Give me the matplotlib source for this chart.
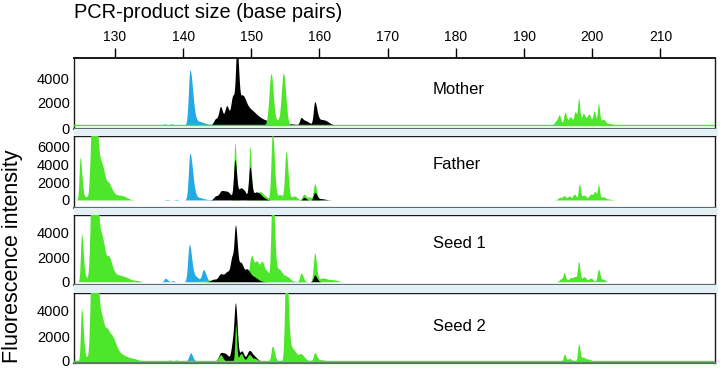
import numpy as np
import matplotlib.pyplot as plt
from matplotlib.patches import Rectangle

plt.rcParams['font.family'] = ['Liberation Sans', 'DejaVu Sans']

# peaks: (size bp, height, left width, right width)
panels = ['Mother', 'Father', 'Seed 1', 'Seed 2']

mother_green = [(152.9, 4100, 0.3, 0.32), (153.8, 300, 0.3, 0.3), (154.7, 4150, 0.3, 0.34),
                (194.8, 350, 0.3, 0.3), (195.2, 650, 0.2, 0.2), (196.0, 1000, 0.2, 0.25),
                (196.8, 650, 0.25, 0.25), (197.5, 1050, 0.2, 0.2), (198.0, 2050, 0.15, 0.18),
                (198.7, 900, 0.25, 0.25), (199.5, 850, 0.3, 0.3), (200.3, 1100, 0.2, 0.2),
                (200.9, 1650, 0.15, 0.18), (201.6, 450, 0.3, 0.3), (202.5, 120, 0.4, 0.4)]
mother_blue = [(137.3, 80, 0.2, 0.2), (138.3, 80, 0.2, 0.2), (141.0, 4350, 0.22, 0.4),
               (142.0, 300, 0.5, 1.0)]
mother_black = [(144.8, 500, 0.3, 0.4), (145.5, 1350, 0.25, 0.3), (146.4, 1500, 0.3, 0.3),
                (147.3, 2300, 0.3, 0.3), (147.9, 6000, 0.2, 0.28), (148.7, 2100, 0.3, 0.5),
                (149.8, 1100, 0.6, 0.8), (151.3, 400, 0.8, 1.0), (154.0, 200, 1.5, 1.5),
                (157.3, 550, 0.2, 0.3), (158.0, 300, 0.3, 0.5), (159.3, 1750, 0.2, 0.3),
                (160.0, 400, 0.4, 0.8), (161.0, 150, 0.5, 0.5)]

father_green = [(124.9, 4700, 0.15, 0.25), (125.7, 350, 0.4, 0.4), (126.5, 3000, 0.2, 0.2),
                (126.9, 12000, 0.3, 0.4), (127.6, 3300, 0.45, 0.6), (128.3, 1900, 0.4, 0.5),
                (129.2, 1350, 0.3, 0.5), (130.5, 500, 0.6, 0.8), (131.5, 150, 0.5, 0.5),
                (147.6, 6400, 0.15, 0.2), (149.8, 6000, 0.15, 0.2), (151.2, 900, 0.3, 0.4),
                (152.0, 400, 0.4, 0.4), (153.1, 7600, 0.2, 0.28), (154.2, 600, 0.4, 0.4),
                (155.1, 5400, 0.2, 0.28), (156.3, 450, 0.4, 0.4), (157.7, 650, 0.2, 0.3),
                (158.5, 300, 0.3, 0.3), (159.3, 1800, 0.2, 0.28),
                (195.3, 300, 0.3, 0.3), (195.9, 450, 0.2, 0.2), (196.6, 450, 0.25, 0.25),
                (197.4, 650, 0.25, 0.25), (198.1, 1750, 0.15, 0.18), (198.8, 550, 0.3, 0.3),
                (199.8, 650, 0.3, 0.3), (200.4, 850, 0.2, 0.2), (200.9, 1650, 0.15, 0.18),
                (201.6, 350, 0.3, 0.3), (202.4, 100, 0.4, 0.4)]
father_blue = [(137.7, 70, 0.2, 0.2), (139.0, 70, 0.2, 0.2), (141.0, 5200, 0.22, 0.4),
               (142.0, 300, 0.4, 0.9)]
father_black = [(144.8, 450, 0.3, 0.4), (145.6, 800, 0.3, 0.4), (146.5, 900, 0.5, 0.5),
                (147.6, 4400, 0.2, 0.25), (148.4, 1200, 0.3, 0.3), (149.0, 900, 0.3, 0.3),
                (149.8, 3600, 0.2, 0.25), (150.7, 850, 0.4, 0.5), (151.5, 300, 0.4, 0.5),
                (157.7, 300, 0.2, 0.3), (159.3, 850, 0.2, 0.3), (160.2, 150, 0.4, 0.6)]

seed1_green = [(125.1, 3800, 0.15, 0.25), (125.7, 300, 0.4, 0.4), (126.5, 3000, 0.2, 0.2),
               (126.9, 12000, 0.3, 0.4), (127.6, 3000, 0.45, 0.6), (128.3, 1800, 0.4, 0.5),
               (129.2, 1550, 0.3, 0.5), (130.5, 500, 0.6, 0.8), (131.8, 200, 0.6, 0.6),
               (133.0, 80, 0.5, 0.5), (144.5, 150, 1.5, 1.5), (147.7, 4500, 0.12, 0.15),
               (150.0, 2000, 0.3, 0.3), (150.8, 1600, 0.35, 0.35), (151.6, 1500, 0.3, 0.3),
               (152.3, 800, 0.3, 0.3), (153.1, 8000, 0.2, 0.28), (154.0, 1000, 0.4, 0.5),
               (155.2, 400, 0.5, 0.5), (157.3, 700, 0.2, 0.3), (159.3, 2300, 0.2, 0.25),
               (160.5, 300, 0.6, 0.6), (162.0, 150, 0.6, 0.6),
               (195.5, 250, 0.3, 0.3), (195.9, 650, 0.15, 0.2), (196.8, 300, 0.3, 0.3),
               (197.5, 400, 0.3, 0.3), (198.0, 1550, 0.15, 0.2), (198.8, 400, 0.3, 0.3),
               (199.8, 300, 0.3, 0.3), (200.9, 1000, 0.18, 0.22), (201.6, 200, 0.3, 0.3)]
seed1_blue = [(133.4, 80, 0.2, 0.2), (137.4, 280, 0.2, 0.3), (138.5, 80, 0.2, 0.2),
              (140.9, 3000, 0.22, 0.35), (141.8, 400, 0.4, 0.5), (143.0, 950, 0.25, 0.35),
              (150.0, 80, 4.0, 4.0)]
seed1_black = [(144.5, 200, 0.4, 0.4), (145.5, 600, 0.35, 0.4), (146.5, 800, 0.4, 0.4),
               (147.2, 1800, 0.25, 0.3), (147.7, 4100, 0.2, 0.28), (148.5, 1500, 0.3, 0.4),
               (149.4, 850, 0.3, 0.4), (150.3, 400, 0.5, 0.6), (159.3, 550, 0.2, 0.3)]

seed2_green = [(125.1, 4100, 0.15, 0.25), (125.7, 300, 0.4, 0.4), (126.5, 3000, 0.2, 0.2),
               (126.9, 12000, 0.3, 0.4), (127.5, 3200, 0.45, 0.6), (128.3, 1800, 0.4, 0.5),
               (129.0, 1500, 0.3, 0.3), (129.6, 1600, 0.3, 0.5), (130.5, 600, 0.6, 0.8),
               (132.0, 200, 0.7, 0.7), (133.0, 100, 0.5, 0.5), (138.0, 80, 0.2, 0.2),
               (139.0, 80, 0.2, 0.2), (145.5, 500, 0.3, 0.3), (147.7, 2900, 0.12, 0.15),
               (148.5, 600, 0.3, 0.3), (149.7, 500, 0.3, 0.3), (150.5, 200, 0.4, 0.4),
               (153.1, 1200, 0.2, 0.3), (155.1, 8000, 0.2, 0.3), (156.0, 1000, 0.5, 0.6),
               (157.3, 500, 0.3, 0.5), (159.3, 650, 0.2, 0.3), (160.3, 100, 0.5, 0.5),
               (195.9, 550, 0.15, 0.2), (196.7, 200, 0.3, 0.3), (198.0, 1350, 0.15, 0.2),
               (198.7, 300, 0.3, 0.3), (199.5, 150, 0.3, 0.3)]
seed2_blue = [(141.1, 650, 0.25, 0.3)]
seed2_black = [(145.5, 600, 0.3, 0.4), (146.3, 500, 0.4, 0.4), (147.3, 1500, 0.25, 0.25),
               (147.7, 4200, 0.2, 0.25), (148.6, 800, 0.3, 0.3), (149.7, 800, 0.35, 0.4),
               (150.5, 300, 0.4, 0.4)]

greens = [mother_green, father_green, seed1_green, seed2_green]
blues = [mother_blue, father_blue, seed1_blue, seed2_blue]
blacks = [mother_black, father_black, seed1_black, seed2_black]

x_ticks = [130, 140, 150, 160, 170, 180, 190, 200, 210]
y_ticks = [[0, 2000, 4000], [0, 2000, 4000, 6000], [0, 2000, 4000], [0, 2000, 4000]]
y_lims = [(-80, 5600), (-900, 7150), (-270, 5440), (-160, 5440)]
baselines = [250, 0, 0, 0]
green_front = [True, False, False, True]

GREEN = '#4ee62b'
BLUE = '#22aae6'

xs = np.linspace(124, 218, 5000)


def trace(peaks):
    y = np.zeros_like(xs)
    for c, h, sl, sr in peaks:
        s = np.where(xs < c, sl, sr)
        y += h * np.exp(-0.5 * ((xs - c) / s) ** 2)
    return y


fig = plt.figure(figsize=(7.2, 3.81), dpi=100)
W, H = 720, 381
left, right = 74, 715
boxes = [(58, 129), (136, 208), (215, 285), (293, 363)]

# light bands between panels
for (t1, b1), (t2, b2) in zip(boxes[:-1], boxes[1:]):
    fig.patches.append(Rectangle((left / W, 1 - t2 / H), (right - left + 3) / W, (t2 - b1) / H,
                                 transform=fig.transFigure, facecolor='#e3f0f5',
                                 edgecolor='none', zorder=0))

for i, name in enumerate(panels):
    top, bot = boxes[i]
    ax = fig.add_axes([left / W, 1 - bot / H, (right - left) / W, (bot - top) / H])
    base = baselines[i]
    g = trace(greens[i])
    b = trace(blues[i])
    k = trace(blacks[i])
    ax.fill_between(xs, base, base + b, color=BLUE, lw=0, zorder=2)
    zg, zk = (4, 3) if green_front[i] else (3, 4)
    ax.fill_between(xs, base, base + g, color=GREEN, lw=0, zorder=zg)
    ax.fill_between(xs, base, base + k, color='black', lw=0, zorder=zk)
    if i in (0, 3):
        ax.axhline(base, color=GREEN, lw=1.0, zorder=5)
    ax.set_xlim(124, 218)
    ax.set_ylim(*y_lims[i])
    ax.set_yticks(y_ticks[i])
    ax.set_yticklabels([str(v) for v in y_ticks[i]], fontsize=10.5)
    ax.tick_params(axis='y', length=0, pad=3)
    for sp in ax.spines.values():
        sp.set_color('#1a1a1a')
        sp.set_linewidth(1.0)
    ax.spines['bottom'].set_color('#5f6b70')
    ax.spines['bottom'].set_linewidth(1.6)
    if i == 0:
        ax.xaxis.tick_top()
        ax.set_xticks(x_ticks)
        ax.set_xticklabels([str(v) for v in x_ticks], fontsize=10)
        ax.tick_params(axis='x', direction='out', length=7, width=1.0, pad=3)
        ax.spines['top'].set_linewidth(1.4)
    else:
        ax.set_xticks([])
    ax.text(0.56, [0.55, 0.61, 0.60, 0.52][i], name, transform=ax.transAxes,
            fontsize=12, va='center', ha='left')

fig.text(left / W, 1 - 13 / H, 'PCR-product size (base pairs)', fontsize=14.4,
         ha='left', va='center')
fig.text(13 / W, 1 - 256 / H, 'Fluorescence intensity', fontsize=15.5,
         rotation=90, ha='center', va='center')

fig.savefig('out.png', dpi=100)
